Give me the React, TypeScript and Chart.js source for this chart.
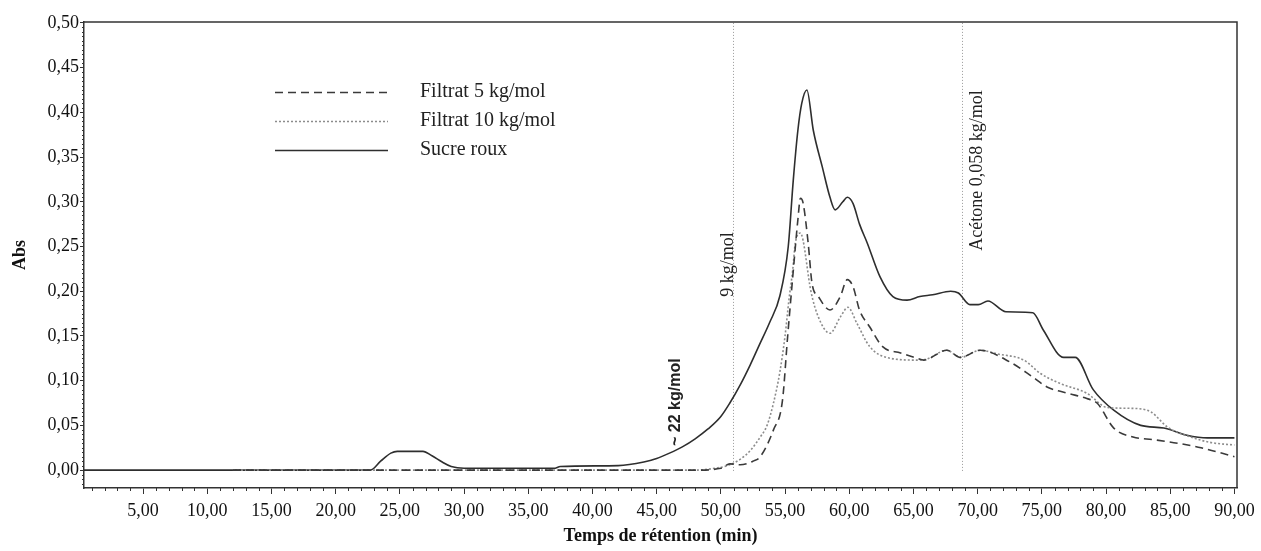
import { useEffect, useRef } from "react";
import { Chart, registerables } from "chart.js";

Chart.register(...registerables);

// ---- Data ----
const xTickValues = [5, 10, 15, 20, 25, 30, 35, 40, 45, 50, 55, 60, 65, 70, 75, 80, 85, 90];
const yTickValues = [0, 0.05, 0.1, 0.15, 0.2, 0.25, 0.3, 0.35, 0.4, 0.45, 0.5];
const seriesLabels = ["Filtrat 5 kg/mol", "Filtrat 10 kg/mol", "Sucre roux"];

const f5Time = [12, 48, 50, 50.7, 51.5, 52.5, 53.07, 54.1, 54.8, 55.2, 55.6, 56.0, 56.2, 56.4, 56.8, 57.1, 57.6, 58.5, 59.3, 59.85, 60.3, 60.8, 61.6, 62.6, 64, 65.3, 65.8, 67.6, 68.65, 70.2, 72.5, 74.3, 75.4, 77.0, 78.5, 79.3, 80.6, 82.1, 83.7, 85.6, 87.4, 90];
const f5Abs = [0, 0, 0.002, 0.007, 0.006, 0.01, 0.015, 0.045, 0.078, 0.149, 0.216, 0.28, 0.304, 0.299, 0.254, 0.209, 0.194, 0.179, 0.194, 0.213, 0.205, 0.179, 0.16, 0.138, 0.131, 0.125, 0.123, 0.134, 0.126, 0.134, 0.121, 0.104, 0.093, 0.086, 0.08, 0.075, 0.047, 0.037, 0.034, 0.03, 0.025, 0.015];

const f10Time = [12, 48, 49.5, 50.5, 51.5, 52.3, 53.07, 53.6, 54.1, 54.6, 55.0, 55.3, 55.6, 55.8, 56.2, 56.4, 57.0, 57.6, 58.5, 59.3, 59.9, 60.6, 61.6, 62.9, 65.3, 66.0, 67.6, 68.65, 70.2, 71.5, 73.6, 74.9, 76.4, 78.5, 80.1, 82.1, 83.5, 84.8, 86.6, 88.1, 90];
const f10Abs = [0, 0, 0.002, 0.005, 0.012, 0.022, 0.037, 0.05, 0.075, 0.11, 0.15, 0.19, 0.224, 0.254, 0.265, 0.257, 0.201, 0.171, 0.153, 0.171, 0.182, 0.164, 0.138, 0.126, 0.123, 0.124, 0.134, 0.126, 0.134, 0.13, 0.123, 0.108, 0.097, 0.086, 0.07, 0.069, 0.065, 0.048, 0.037, 0.031, 0.028];

const sucreTime = [0.4, 22.7, 23.5, 24.3, 24.8, 26.8, 27.5, 28.3, 29, 30, 37, 37.5, 42, 44, 45, 46, 47, 48, 49, 50, 50.7, 51.5, 52.3, 53, 53.8, 54.6, 55.25, 55.64, 56, 56.3, 56.7, 57.2, 57.9, 58.5, 58.9, 59.5, 59.85, 60.3, 60.8, 61.4, 62.4, 63.4, 64.5, 65.5, 66.5, 67.9, 68.5, 69.4, 70.05, 70.8, 72.2, 74.3, 75.1, 76.7, 77.6, 79.0, 80.6, 82.7, 84.5, 86.3, 87.9, 90];
const sucreAbs = [0, 0, 0.01, 0.019, 0.021, 0.021, 0.016, 0.009, 0.004, 0.002, 0.002, 0.004, 0.005, 0.009, 0.013, 0.019, 0.026, 0.035, 0.046, 0.06, 0.075, 0.095, 0.118, 0.14, 0.165, 0.195, 0.25, 0.324, 0.38, 0.41, 0.425, 0.38, 0.339, 0.305, 0.291, 0.3, 0.305, 0.298, 0.275, 0.254, 0.216, 0.194, 0.19, 0.194, 0.196, 0.2, 0.198, 0.185, 0.185, 0.189, 0.177, 0.176, 0.157, 0.126, 0.126, 0.09, 0.067, 0.05, 0.047, 0.039, 0.036, 0.036];

const markerTimes = [50.95, 68.8];
const annotationTexts = ["~ 22 kg/mol", "9 kg/mol", "Acétone 0,058 kg/mol"];
const annotationTimes = [46.5, 50.6, 69.95];
const annotationAbs = [0.076, 0.23, 0.335];

const fmt = (v: number) => v.toFixed(2).replace(".", ",");
const toPoints = (t: number[], a: number[]) => t.map((x, i) => ({ x, y: a[i] }));

const extrasPlugin = {
  id: "extras",
  beforeDatasetsDraw(chart: any) {
    const { ctx, scales } = chart;
    const xs = scales.x, ys = scales.y;
    ctx.save();
    ctx.strokeStyle = "#9a9a9a";
    ctx.lineWidth = 1;
    ctx.setLineDash([1, 2]);
    markerTimes.forEach((t) => {
      const px = Math.round(xs.getPixelForValue(t)) + 0.5;
      ctx.beginPath();
      ctx.moveTo(px, ys.getPixelForValue(0.5));
      ctx.lineTo(px, ys.getPixelForValue(-0.003));
      ctx.stroke();
    });
    ctx.restore();
  },
  afterDatasetsDraw(chart: any) {
    const { ctx, scales, chartArea } = chart;
    const xs = scales.x, ys = scales.y;
    ctx.save();
    // frame top & right
    ctx.strokeStyle = "#333";
    ctx.lineWidth = 1.5;
    ctx.beginPath();
    ctx.moveTo(chartArea.left, chartArea.top);
    ctx.lineTo(chartArea.right, chartArea.top);
    ctx.lineTo(chartArea.right, chartArea.bottom);
    ctx.stroke();
    // minor ticks
    ctx.lineWidth = 1;
    ctx.beginPath();
    for (let v = 1; v <= 90; v++) {
      if (v % 5 === 0) continue;
      const px = Math.round(xs.getPixelForValue(v)) + 0.5;
      ctx.moveTo(px, chartArea.bottom);
      ctx.lineTo(px, chartArea.bottom + 3);
    }
    for (let k = -3; k <= 100; k++) {
      if (k % 10 === 0) continue;
      const py = Math.round(ys.getPixelForValue(k * 0.005)) + 0.5;
      if (py < chartArea.top || py > chartArea.bottom) continue;
      ctx.moveTo(chartArea.left, py);
      ctx.lineTo(chartArea.left - 2, py);
    }
    ctx.stroke();

    // annotations
    ctx.fillStyle = "#222";
    ctx.textAlign = "center";
    ctx.textBaseline = "middle";
    annotationTexts.forEach((txt, i) => {
      const px = xs.getPixelForValue(annotationTimes[i]);
      const py = ys.getPixelForValue(annotationAbs[i]);
      ctx.save();
      ctx.translate(px, py);
      ctx.rotate(-Math.PI / 2);
      ctx.font = i === 0 ? "bold 16px 'Liberation Sans'" : "18px 'Liberation Serif'";
      ctx.fillText(txt, 0, 0);
      ctx.restore();
    });

    // legend
    const rows = [92, 121, 150];
    ctx.textAlign = "left";
    ctx.font = "20px 'Liberation Serif'";
    [0, 1, 2].forEach((di, r) => {
      const ds = chart.data.datasets[di];
      ctx.save();
      ctx.strokeStyle = ds.borderColor;
      ctx.lineWidth = ds.borderWidth;
      ctx.setLineDash(ds.borderDash || []);
      ctx.beginPath();
      ctx.moveTo(275, rows[r] + 0.5);
      ctx.lineTo(388, rows[r] + 0.5);
      ctx.stroke();
      ctx.restore();
      ctx.fillStyle = "#222";
      ctx.fillText(seriesLabels[di], 420, rows[r]);
    });
    ctx.restore();
  },
};

export default function App() {
  const ref = useRef<HTMLCanvasElement>(null);
  useEffect(() => {
    if (!ref.current) return;
    const chart = new Chart(ref.current, {
      type: "line",
      data: {
        datasets: [
          {
            label: seriesLabels[0],
            data: toPoints(f5Time, f5Abs),
            borderColor: "#3a3a3a",
            borderWidth: 1.6,
            borderDash: [8, 5],
            pointRadius: 0,
            cubicInterpolationMode: "monotone",
          },
          {
            label: seriesLabels[1],
            data: toPoints(f10Time, f10Abs),
            borderColor: "#8c8c8c",
            borderWidth: 1.6,
            borderDash: [2, 2],
            pointRadius: 0,
            cubicInterpolationMode: "monotone",
          },
          {
            label: seriesLabels[2],
            data: toPoints(sucreTime, sucreAbs),
            borderColor: "#2e2e2e",
            borderWidth: 1.6,
            pointRadius: 0,
            cubicInterpolationMode: "monotone",
          },
        ],
      },
      options: {
        responsive: false,
        animation: false,
        layout: { padding: { top: 22, right: 24, left: 0, bottom: 0 } },
        plugins: { legend: { display: false }, tooltip: { enabled: false } },
        scales: {
          x: {
            type: "linear",
            min: 0.4,
            max: 90.2,
            afterBuildTicks: (s: any) => {
              s.ticks = xTickValues.map((v) => ({ value: v }));
            },
            afterFit: (s: any) => {
              s.height = 63;
            },
            ticks: {
              callback: (v: any) => fmt(Number(v)),
              font: { family: "'Liberation Serif'", size: 18 },
              color: "#111",
              padding: 6,
              maxRotation: 0,
              autoSkip: false,
            },
            grid: { drawOnChartArea: false, drawTicks: true, tickLength: 6, color: "#333", tickWidth: 1 },
            border: { display: true, color: "#333", width: 1.5 },
            title: {
              display: true,
              text: "Temps de rétention (min)",
              font: { family: "'Liberation Serif'", size: 18, weight: "bold" },
              color: "#111",
              padding: { top: 0, bottom: 4 },
            },
          },
          y: {
            type: "linear",
            min: -0.02,
            max: 0.501,
            afterBuildTicks: (s: any) => {
              s.ticks = yTickValues.map((v) => ({ value: v }));
            },
            afterFit: (s: any) => {
              s.width = 84;
            },
            ticks: {
              callback: (v: any) => fmt(Number(v)),
              font: { family: "'Liberation Serif'", size: 18 },
              color: "#111",
              padding: 1,
            },
            grid: { drawOnChartArea: false, drawTicks: true, tickLength: 4, color: "#333", tickWidth: 1 },
            border: { display: true, color: "#333", width: 1.5 },
            title: {
              display: true,
              text: "Abs",
              font: { family: "'Liberation Serif'", size: 18, weight: "bold" },
              color: "#111",
              padding: { top: 10, bottom: 0 },
            },
          },
        },
      },
      plugins: [extrasPlugin],
    } as any);
    return () => chart.destroy();
  }, []);
  return (
    <div style={{ position: "absolute", left: 0, top: 0, width: 1261, height: 551, background: "#fff" }}>
      <canvas ref={ref} width={1261} height={551} style={{ display: "block" }} />
    </div>
  );
}
